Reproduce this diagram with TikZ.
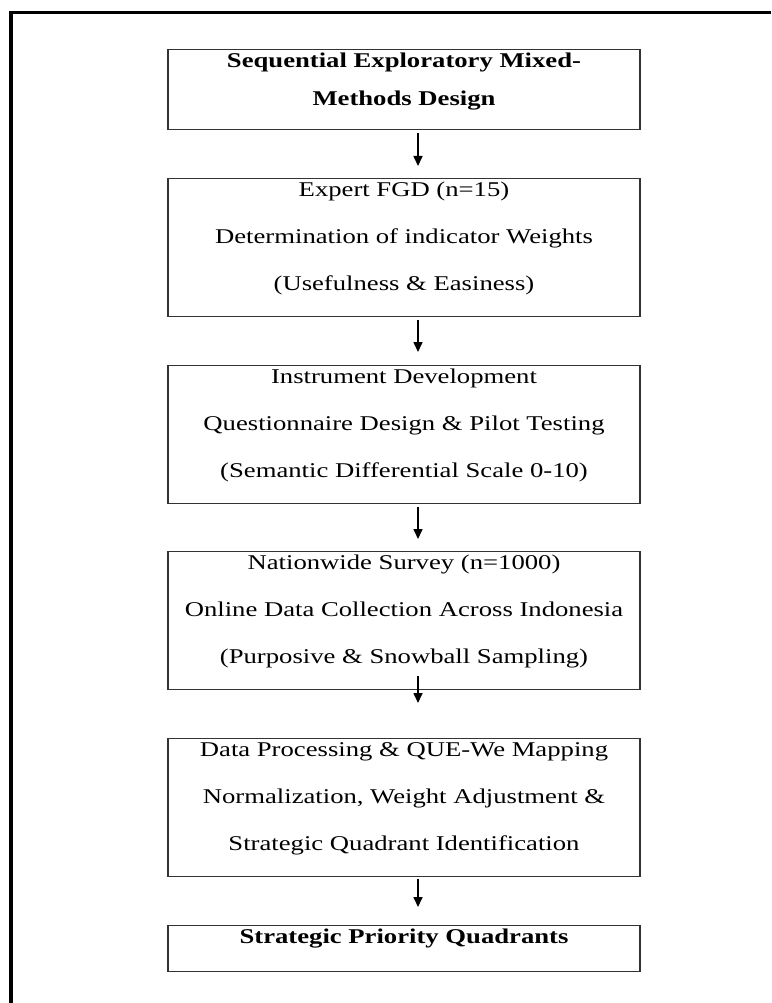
\documentclass[tikz,border=0pt]{standalone}
\usepackage{fontspec}
\setmainfont{Liberation Serif}[FakeStretch=1.27]
\usetikzlibrary{arrows.meta}
\begin{document}
\begin{tikzpicture}[x=1pt,y=-1pt,
  box/.style={draw=black!80, line width=1.4pt, minimum width=472pt, inner sep=0pt, anchor=north},
  txt/.style={anchor=north, align=center, inner sep=0pt, font=\fontsize{21}{47}\selectfont},
  flow/.style={-{Triangle[width=9pt,length=10pt]}, line width=1.6pt}]
\useasboundingbox (0,0) rectangle (771,1003);
\draw[line width=3.8pt] (11,1003) -- (11,12.5) -- (771,12.5);
% boxes
\node[box, minimum height=80pt]  (b1) at (404,49)  {};
\node[box, minimum height=138pt] (b2) at (404,178) {};
\node[box, minimum height=138pt] (b3) at (404,365) {};
\node[box, minimum height=138pt] (b4) at (404,551) {};
\node[box, minimum height=138pt] (b5) at (404,738) {};
\node[box, minimum height=46pt]  (b6) at (404,925) {};
% texts
\node[txt, font=\fontsize{21}{38}\selectfont] (t1) at ([yshift=-4pt]b1.north) {\bfseries Sequential Exploratory Mixed-\\\bfseries Methods Design};
\node[txt] (t2) at ([yshift=-4pt]b2.north) {Expert FGD (n=15)\\Determination of indicator Weights\\(Usefulness \& Easiness)};
\node[txt] (t3) at ([yshift=-4pt]b3.north) {Instrument Development\\Questionnaire Design \& Pilot Testing\\(Semantic Differential Scale 0-10)};
\node[txt] (t4) at ([yshift=-4pt]b4.north) {Nationwide Survey (n=1000)\\Online Data Collection Across Indonesia\\(Purposive \& Snowball Sampling)};
\node[txt] (t5) at ([yshift=-4pt]b5.north) {Data Processing \& QUE-We Mapping\\Normalization, Weight Adjustment \&\\Strategic Quadrant Identification};
\node[txt] (t6) at ([yshift=-4pt]b6.north) {\bfseries Strategic Priority Quadrants};
% connectors
\draw[flow, shorten <=3pt, shorten >=12pt]  ([xshift=14pt]b1.south) -- ([xshift=14pt]b2.north);
\draw[flow, shorten <=3pt, shorten >=13pt]  ([xshift=14pt]b2.south) -- ([xshift=14pt]b3.north);
\draw[flow, shorten <=3pt, shorten >=12pt]  ([xshift=14pt]b3.south) -- ([xshift=14pt]b4.north);
\draw[flow, shorten <=-14pt, shorten >=35pt] ([xshift=14pt]b4.south) -- ([xshift=14pt]b5.north);
\draw[flow, shorten <=2pt, shorten >=18pt]  ([xshift=14pt]b5.south) -- ([xshift=14pt]b6.north);
\end{tikzpicture}
\end{document}
